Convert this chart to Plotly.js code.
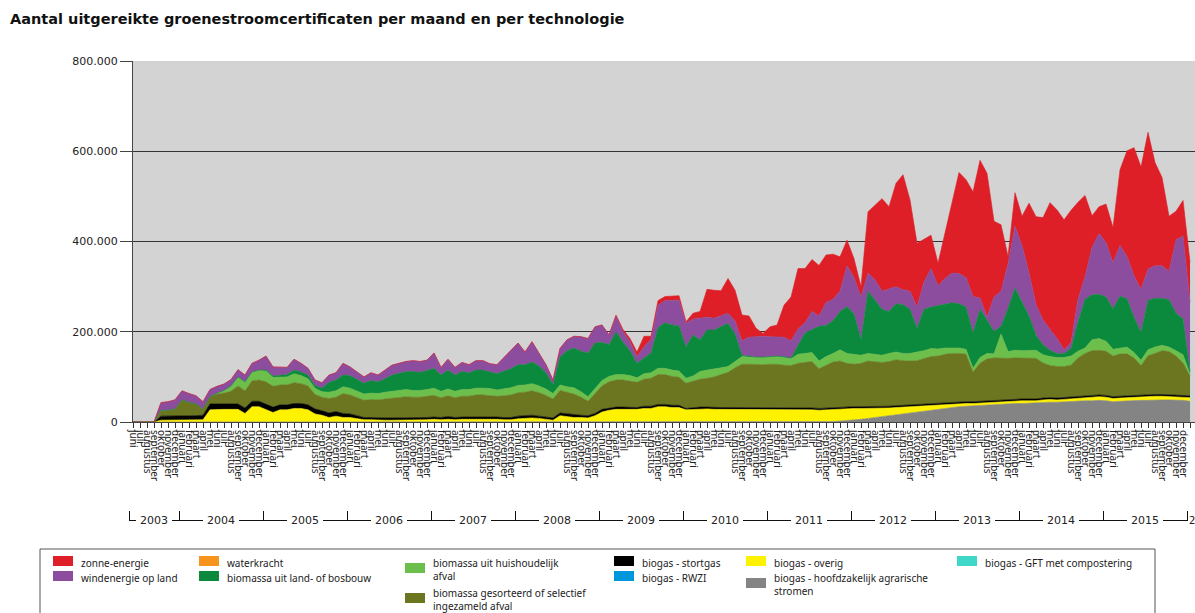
<!DOCTYPE html>
<html><head><meta charset="utf-8">
<script src="https://cdn.plot.ly/plotly-3.0.1.min.js"></script>
<style>html,body{margin:0;padding:0;background:#fff;overflow:hidden}#chart{width:1195px;height:613px}</style>
</head><body><div id="chart"></div>
<script>
// ---------- DATA (monthly, juni 2003 .. januari 2016; values in thousands of certificates) ----------
const monthNames = ['januari','februari','maart','april','mei','juni','juli','augustus','september','oktober','november','december'];
const years = [2003,2004,2005,2006,2007,2008,2009,2010,2011,2012,2013,2014,2015,2016];
const yearLabels = ['2003','2004','2005','2006','2007','2008','2009','2010','2011','2012','2013','2014','2015','2'];
const firstMonthIndex = 5; // juni 2003
const yTickVals = [0,200,400,600,800];
const yTickText = ['0','200.000','400.000','600.000','800.000'];

const agrarisch = [
 0,0,0,0,0,0,0,
 0,0,0,0,0,0,0,0,0,0,0,0,
 0,0,0,0,0,0,0,0,0,0,0,0,
 0,0,0,0,0,0,0,0,0,0,0,0,
 0,0,0,0,0,0,0,0,0,0,0,0,
 0,0,0,0,0,0,0,0,0,0,0,0,
 0,0,0,0,0,0,0,0,0,0,0,0,
 0,0,0,0,0,0,0,0,0,0,0,0,
 0,0,0,0,0,0,0,0,0,1,2,3,
 4,6,8,10,12,14,16,18,20,22,25,27,
 28,30,32,34,35,36,37,38,38,39,40,41,
 41,42,42,43,44,44,45,46,46,47,47,48,
 47,45,46,47,47,48,48,49,49,49,49,48,
 46];
const overig = [
 0,0,0,0,4,4,4,
 4,4,4,5,27,28,28,28,28,19,34,34,
 27,21,27,27,30,30,27,18,15,10,13,10,
 10,8,5,5,4,4,4,4,5,4,4,5,
 6,5,6,5,6,6,7,7,7,6,5,5,
 7,8,9,8,6,4,14,12,10,10,9,14,
 22,26,28,28,28,28,30,30,34,34,32,32,
 27,28,29,29,28,28,28,28,27,27,27,27,
 27,27,27,27,27,27,27,26,27,27,26,27,
 26,24,22,20,18,17,16,15,14,13,11,10,
 9,8,7,6,6,5,5,5,6,5,5,6,
 6,5,5,6,6,5,5,6,7,7,7,8,
 8,7,7,7,8,8,8,8,8,7,7,7,
 8];
const stortgas = [
 0,0,0,0,9,9,9,
 10,10,10,10,13,12,12,12,12,12,12,12,
 12,12,11,11,11,11,11,11,10,10,10,9,
 8,6,5,5,5,5,5,5,5,5,5,5,
 5,5,6,5,5,5,5,5,5,5,5,5,
 6,6,6,5,5,5,6,6,6,5,5,5,
 6,5,5,5,5,4,5,5,5,5,5,5,
 3,4,4,4,4,4,4,4,4,4,4,4,
 4,4,4,4,4,4,4,4,4,4,4,4,
 4,4,4,4,4,4,4,4,4,4,4,4,
 4,4,4,4,4,4,4,4,4,4,4,4,
 4,4,4,4,4,4,4,4,4,4,4,4,
 4,4,4,4,4,4,4,4,4,4,4,4,
 4];
const gesorteerd = [
 0,0,0,0,13,13,16,
 35,30,26,14,16,22,24,28,40,38,45,47,
 50,46,44,44,46,44,42,32,30,32,32,44,
 42,40,38,40,40,42,44,45,46,46,46,47,
 48,44,46,44,46,46,48,48,47,46,48,50,
 52,52,54,52,48,42,50,48,46,40,32,44,
 52,58,60,60,58,56,60,62,66,66,64,62,
 56,58,62,64,68,73,78,88,97,97,96,96,
 97,97,95,94,99,101,103,88,94,101,103,96,
 94,96,101,100,98,99,102,99,97,97,100,104,
 105,108,109,108,105,66,84,93,94,93,92,91,
 91,90,90,78,71,70,69,70,85,94,100,99,
 98,90,94,93,83,65,87,91,97,96,86,72,
 44];
const huishoudelijk = [
 0,0,0,0,0,0,0,
 0,0,0,0,0,2,6,12,20,20,20,22,
 24,20,18,18,20,18,16,14,12,14,14,15,
 15,14,14,14,14,15,15,16,16,15,15,15,
 16,14,15,14,15,15,15,15,15,14,15,16,
 16,16,16,15,14,12,12,12,14,12,10,12,
 12,12,12,12,12,10,12,12,14,14,14,14,
 11,12,17,18,17,15,13,15,17,16,16,16,
 16,17,17,15,20,20,20,17,20,19,25,22,
 22,18,17,16,16,18,17,16,17,19,18,18,
 16,14,12,12,11,8,13,12,9,54,15,17,
 16,17,18,18,20,20,20,20,15,12,24,26,
 22,15,13,15,12,12,13,14,12,10,12,18,
 4];
const bosbouw = [
 0,0,0,0,0,0,0,
 0,0,0,0,0,0,0,0,0,0,0,0,
 2,3,4,5,8,8,8,6,8,22,24,26,
 28,26,24,28,26,30,36,38,40,42,40,42,
 44,36,42,36,40,37,40,40,37,36,40,42,
 46,45,48,44,36,20,62,80,88,90,97,100,
 85,70,95,72,55,32,35,44,90,101,100,100,
 70,91,70,89,87,92,96,60,3,2,1,1,
 1,1,2,2,20,45,51,77,69,73,85,104,
 90,34,138,120,102,93,107,108,98,53,92,92,
 96,98,100,98,94,78,107,74,50,17,96,138,
 108,77,33,22,14,9,9,17,65,108,100,98,
 98,90,115,107,78,62,110,108,104,105,83,80,
 6];
const wind = [
 0,0,0,0,17,19,20,
 20,19,18,16,16,15,14,14,16,15,19,22,
 31,20,17,16,24,19,15,12,12,16,16,26,
 19,17,14,17,15,19,22,22,22,24,24,23,
 34,17,24,17,20,18,21,21,18,20,31,41,
 48,28,45,28,18,10,19,24,26,32,32,36,
 38,22,35,23,20,15,25,30,50,49,55,57,
 52,35,48,28,26,23,22,29,32,42,45,46,
 44,43,43,38,36,23,40,23,51,47,45,90,
 80,95,40,45,40,50,38,33,40,47,60,85,
 44,56,66,67,65,81,25,6,76,78,98,137,
 125,95,68,55,47,33,8,13,50,50,105,135,
 121,102,112,94,92,95,69,72,72,63,163,183,
 153];
const zon = [
 0,0,0,0,0,0,0,
 0,0,0,0,0,0,0,0,0,0,0,0,
 0,0,0,0,0,0,0,0,0,0,0,0,
 0,0,0,0,0,0,0,0,0,0,0,0,
 0,0,0,0,0,0,0,0,0,0,0,0,
 0,0,0,0,0,0,0,0,0,0,0,0,
 0,0,2,5,7,10,23,7,10,9,9,10,
 3,13,15,62,62,56,77,68,57,47,19,6,
 22,26,71,97,134,120,115,112,105,100,76,57,
 42,23,136,165,205,182,229,255,202,141,95,74,
 50,100,155,224,217,232,305,319,168,147,17,74,
 65,155,195,227,280,285,288,293,215,180,70,59,
 85,78,168,234,284,271,303,229,196,122,63,79,
 89];

// legend entries in the order of the reference legend
const legendNames = [
 'zonne-energie','windenergie op land','waterkracht','biomassa uit land- of bosbouw',
 'biomassa uit huishoudelijk<br>afval','biomassa gesorteerd of selectief<br>ingezameld afval',
 'biogas - stortgas','biogas - RWZI','biogas - overig','biogas - hoofdzakelijk agrarische<br>stromen',
 'biogas - GFT met compostering'];
const legendColors = ['#DE1F27','#8C4D9E','#F7941D','#0B8A3E','#6DBF4B','#6C7520','#000000','#0096DB','#FFF200','#848484','#3FD8C8'];

// ---------- BUILD ----------
const n = zon.length;
const idx = Array.from({length:n},(_,i)=>i);
const monthLabels = idx.map(i=>monthNames[(firstMonthIndex+i)%12]);

const stack = [
 {name:'biogas - hoofdzakelijk agrarische stromen', y:agrarisch, c:'#848484'},
 {name:'biogas - overig', y:overig, c:'#FFF200'},
 {name:'biogas - stortgas', y:stortgas, c:'#000000'},
 {name:'biomassa gesorteerd of selectief ingezameld afval', y:gesorteerd, c:'#6C7520'},
 {name:'biomassa uit huishoudelijk afval', y:huishoudelijk, c:'#6DBF4B'},
 {name:'biomassa uit land- of bosbouw', y:bosbouw, c:'#0B8A3E'},
 {name:'windenergie op land', y:wind, c:'#8C4D9E'},
 {name:'zonne-energie', y:zon, c:'#DE1F27'}
];
const traces = stack.map(s=>({
 type:'scatter', mode:'lines', x:idx, y:s.y, name:s.name, stackgroup:'one',
 line:{width:0.6, color:s.c}, fillcolor:s.c, hoverinfo:'skip', showlegend:false
}));

// geometry (pixels)
const L = 133, T = 61, W = 1195, H = 613, PB = 422;
const plotW = W - L, plotH = PB - T;
const r0 = 0, r1 = 151.71;
const pxX = i => L + (i - r0) / (r1 - r0) * plotW;
const toPX = X => (X - L) / plotW;
const toPY = Y => (PB - Y) / plotH;

const shapes = [], annotations = [];
const FONT = 'DejaVu Sans, Verdana, sans-serif';
// solid 1px bar drawn as a filled rectangle (pixel coordinates)
const bar = (xa, ya, xb, yb) => shapes.push({type:'rect', xref:'paper', yref:'paper',
 x0:toPX(xa), x1:toPX(xb), y0:toPY(ya), y1:toPY(yb), line:{width:0}, fillcolor:'#111111', layer:'above'});

// title
annotations.push({xref:'paper', yref:'paper', x:toPX(8), y:toPY(19), xanchor:'left', yanchor:'middle',
 text:'<b>Aantal uitgereikte groenestroomcertificaten per maand en per technologie</b>', showarrow:false,
 font:{family:FONT, size:14.5, color:'#111'}});

// year row
const yLine = 520;
let start = 0;
years.forEach((yr, k) => {
 const len = (k === 0) ? (12 - firstMonthIndex) : 12;
 const x0 = Math.round(pxX(start - 0.5)), x1 = Math.round(pxX(start + len - 0.5));
 bar(x0, 511, x0 + 1, yLine + 1);
 if (k === years.length-1) {
  annotations.push({xref:'paper', yref:'paper', x:toPX(x0 - 0.5), y:toPY(yLine), xanchor:'left', yanchor:'middle',
   text:yearLabels[k], showarrow:false, font:{family:FONT, size:10, color:'#222'}});
 } else {
  const c = (x0 + x1) / 2;
  bar(x0, yLine, Math.round(c - 18), yLine + 1);
  bar(Math.round(c + 18), yLine, x1, yLine + 1);
  annotations.push({xref:'paper', yref:'paper', x:toPX(c), y:toPY(yLine), xanchor:'center', yanchor:'middle',
   text:yearLabels[k], showarrow:false, font:{family:FONT, size:11, color:'#222'}});
 }
 start += len;
});

// legend box
shapes.push({type:'rect', xref:'paper', yref:'paper', x0:toPX(40), x1:toPX(1155), y0:toPY(549), y1:toPY(640), line:{color:'#555', width:1}, fillcolor:'rgba(0,0,0,0)'});
// legend layout: [swatch left px, swatch centre y px, text first-line centre y px]
const legendPos = [
 [53,561,561],[53,576,576],[199,561,561],[199,576,576],
 [405,568,561],[405,598,591],
 [614,561,561],[614,576,576],[746,561,561],[746,583,576],[957,561,561]];
legendNames.forEach((nm,k)=>{
 const [sx, sy, ty] = legendPos[k];
 shapes.push({type:'rect', xref:'paper', yref:'paper', x0:toPX(sx), x1:toPX(sx+20), y0:toPY(sy-5), y1:toPY(sy+5), line:{width:0}, fillcolor:legendColors[k]});
 annotations.push({xref:'paper', yref:'paper', x:toPX(sx+26), y:toPY(ty-7), xanchor:'left', yanchor:'top', align:'left',
  text:nm, showarrow:false, font:{family:'Noto Sans, sans-serif', size:10, color:'#222'}});
});

const layout = {
 width:W, height:H, margin:{l:L, r:0, t:T, b:H-PB, pad:0},
 paper_bgcolor:'#ffffff', plot_bgcolor:'#D3D3D3', showlegend:false,
 xaxis:{type:'linear', range:[r0, r1], tickmode:'array', tickvals:idx, ticktext:monthLabels, tickangle:90,
  ticks:'outside', ticklen:5, tickcolor:'#333', tickwidth:1, tickfont:{family:'Noto Sans, sans-serif', size:10, color:'#222'},
  showgrid:false, zeroline:false, showline:true, linecolor:'#444', linewidth:1, automargin:false, fixedrange:true},
 yaxis:{range:[0,800], tickmode:'array', tickvals:yTickVals, ticktext:yTickText,
  ticks:'outside', ticklen:12, tickcolor:'#444', tickfont:{family:FONT, size:11, color:'#222'},
  showgrid:true, gridcolor:'#333333', gridwidth:1, zeroline:false, showline:true, linecolor:'#444', linewidth:1,
  automargin:false, fixedrange:true},
 shapes:shapes, annotations:annotations
};
Plotly.newPlot('chart', traces, layout, {displayModeBar:false, staticPlot:true});
</script></body></html>
